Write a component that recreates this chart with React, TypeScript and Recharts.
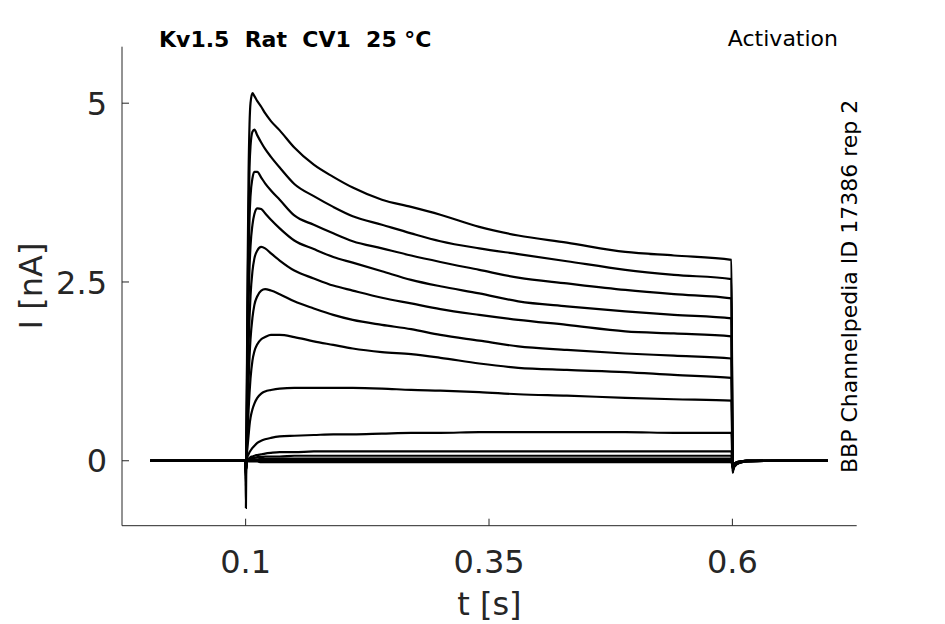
import { LineChart, Line, XAxis, YAxis } from 'recharts';

// time base (s) shared by all sweeps
const times = [0.002, 0.05, 0.0998, 0.1003, 0.101, 0.102, 0.103, 0.104, 0.105, 0.107, 0.109, 0.112, 0.116, 0.12, 0.126, 0.135, 0.15, 0.17, 0.19, 0.21, 0.24, 0.27, 0.3, 0.34, 0.38, 0.43, 0.49, 0.54, 0.599, 0.6003, 0.601, 0.603, 0.607, 0.615, 0.65, 0.698];

// current (nA) for each activation sweep, largest first
const sweep1 = [0, 0, 0, -0.66, 0.6, 2.6, 4.0, 4.7, 5.0, 5.14, 5.1, 5.03, 4.95, 4.86, 4.75, 4.62, 4.38, 4.14, 3.97, 3.82, 3.65, 3.55, 3.44, 3.27, 3.15, 3.05, 2.92, 2.87, 2.81, -0.17, -0.12, -0.07, -0.03, -0.01, 0, 0];
const sweep2 = [0, 0, 0, -0.35, 0.5, 2.2, 3.4, 4.1, 4.4, 4.6, 4.63, 4.55, 4.45, 4.36, 4.25, 4.1, 3.87, 3.7, 3.55, 3.42, 3.3, 3.18, 3.07, 2.97, 2.89, 2.79, 2.67, 2.6, 2.54, -0.16, -0.11, -0.06, -0.03, -0.01, 0, 0];
const sweep3 = [0, 0, 0, -0.25, 0.4, 1.8, 2.8, 3.4, 3.7, 3.95, 4.04, 4.04, 3.96, 3.88, 3.78, 3.65, 3.43, 3.3, 3.18, 3.07, 2.97, 2.87, 2.78, 2.67, 2.56, 2.48, 2.39, 2.33, 2.27, -0.15, -0.1, -0.06, -0.03, -0.01, 0, 0];
const sweep4 = [0, 0, 0, -0.22, 0.3, 1.4, 2.2, 2.7, 3.0, 3.3, 3.45, 3.53, 3.52, 3.46, 3.37, 3.25, 3.08, 2.96, 2.85, 2.77, 2.65, 2.53, 2.44, 2.34, 2.23, 2.16, 2.09, 2.04, 1.99, -0.15, -0.1, -0.05, -0.02, -0.01, 0, 0];
const sweep5 = [0, 0, 0, -0.2, 0.2, 1.0, 1.6, 2.0, 2.3, 2.65, 2.83, 2.94, 2.99, 2.97, 2.9, 2.8, 2.66, 2.55, 2.45, 2.38, 2.28, 2.2, 2.12, 2.04, 1.97, 1.9, 1.81, 1.78, 1.74, -0.14, -0.1, -0.05, -0.02, 0, 0, 0];
const sweep6 = [0, 0, 0, -0.18, 0.15, 0.7, 1.1, 1.45, 1.7, 2.0, 2.18, 2.3, 2.38, 2.4, 2.38, 2.33, 2.23, 2.13, 2.04, 1.97, 1.9, 1.84, 1.76, 1.68, 1.6, 1.55, 1.5, 1.47, 1.43, -0.14, -0.09, -0.05, -0.02, 0, 0, 0];
const sweep7 = [0, 0, 0, -0.16, 0.1, 0.4, 0.7, 0.95, 1.15, 1.4, 1.53, 1.63, 1.7, 1.73, 1.76, 1.76, 1.73, 1.67, 1.62, 1.57, 1.52, 1.49, 1.44, 1.36, 1.3, 1.27, 1.24, 1.2, 1.16, -0.13, -0.09, -0.05, -0.02, 0, 0, 0];
const sweep8 = [0, 0, 0, -0.15, 0.05, 0.2, 0.35, 0.5, 0.6, 0.72, 0.8, 0.88, 0.94, 0.97, 0.99, 1.01, 1.02, 1.02, 1.02, 1.02, 1.01, 0.99, 0.98, 0.96, 0.93, 0.91, 0.88, 0.86, 0.84, -0.12, -0.08, -0.04, -0.02, 0, 0, 0];
const sweep9 = [0, 0, 0, -0.14, 0.02, 0.06, 0.09, 0.12, 0.14, 0.18, 0.21, 0.25, 0.28, 0.3, 0.32, 0.34, 0.35, 0.36, 0.37, 0.37, 0.38, 0.39, 0.39, 0.4, 0.4, 0.4, 0.4, 0.39, 0.39, -0.12, -0.08, -0.04, -0.02, 0, 0, 0];
const sweep10 = [0, 0, 0, -0.13, 0.01, 0.02, 0.03, 0.04, 0.05, 0.06, 0.07, 0.08, 0.09, 0.1, 0.11, 0.12, 0.12, 0.13, 0.13, 0.13, 0.13, 0.13, 0.13, 0.13, 0.13, 0.13, 0.13, 0.13, 0.13, -0.11, -0.07, -0.04, -0.02, 0, 0, 0];
const sweep11 = [0, 0, 0, -0.12, 0, 0.01, 0.02, 0.02, 0.03, 0.04, 0.04, 0.05, 0.05, 0.06, 0.06, 0.06, 0.07, 0.07, 0.07, 0.07, 0.07, 0.07, 0.07, 0.07, 0.07, 0.07, 0.07, 0.07, 0.07, -0.1, -0.07, -0.04, -0.02, 0, 0, 0];
const sweep12 = [0, 0, 0, -0.11, 0, 0, 0.01, 0.01, 0.01, 0.02, 0.02, 0.02, 0.03, 0.03, 0.03, 0.03, 0.03, 0.03, 0.03, 0.03, 0.03, 0.03, 0.03, 0.03, 0.03, 0.03, 0.03, 0.03, 0.03, -0.09, -0.06, -0.03, -0.01, 0, 0, 0];
const sweep13 = [0, 0, 0, -0.1, 0, 0, 0, 0, 0, 0, 0, 0.01, 0.01, 0.01, 0.01, 0.01, 0.01, 0.01, 0.01, 0.01, 0.01, 0.01, 0.01, 0.01, 0.01, 0.01, 0.01, 0.01, 0.01, -0.08, -0.05, -0.03, -0.01, 0, 0, 0];
const sweep14 = [0, 0, 0, -0.1, 0, 0, -0.01, -0.01, -0.01, -0.01, -0.01, -0.01, -0.02, -0.02, -0.02, -0.02, -0.02, -0.02, -0.02, -0.02, -0.02, -0.02, -0.02, -0.02, -0.02, -0.02, -0.02, -0.02, -0.02, -0.08, -0.05, -0.03, -0.01, 0, 0, 0];

const sweeps = [sweep1, sweep2, sweep3, sweep4, sweep5, sweep6, sweep7, sweep8, sweep9, sweep10, sweep11, sweep12, sweep13, sweep14];

const xTicks = [0.1, 0.35, 0.6];
const yTicks = [0, 2.5, 5];

const FONT = '"DejaVu Sans", sans-serif';
const GREY = '#262626';

const chartData = times.map((t, i) => {
  const row: Record<string, number> = { t };
  sweeps.forEach((s, k) => {
    row[`s${k + 1}`] = s[i];
  });
  return row;
});

function XTick({ x, y, payload }: any) {
  return (
    <g>
      <line x1={x} x2={x} y1={y} y2={y - 7} stroke={GREY} strokeWidth={1} />
      <text x={x} y={y + 47} textAnchor="middle" fontSize={32} fontFamily={FONT} fill={GREY}>
        {String(payload.value)}
      </text>
    </g>
  );
}

function YTick({ x, y, payload }: any) {
  return (
    <g>
      <line x1={x} x2={x + 7} y1={y} y2={y} stroke={GREY} strokeWidth={1} />
      <text x={x - 15} y={y + 11.7} textAnchor="end" fontSize={32} fontFamily={FONT} fill={GREY}>
        {String(payload.value)}
      </text>
    </g>
  );
}

export default function App() {
  return (
    <div style={{ position: 'absolute', left: 0, top: 0, width: 945, height: 624, background: '#fff' }}>
      <LineChart
        width={945}
        height={624}
        data={chartData}
        margin={{ top: 46.7, right: 88.3, bottom: 97.3, left: 121 }}
      >
        <XAxis
          dataKey="t"
          type="number"
          domain={[-0.027, 0.7277]}
          ticks={xTicks}
          height={1}
          tickSize={0}
          tickMargin={0}
          tickLine={false}
          axisLine={{ stroke: GREY, strokeWidth: 1 }}
          tick={<XTick />}
        />
        <YAxis
          type="number"
          domain={[-0.908, 5.79]}
          ticks={yTicks}
          width={1}
          tickSize={0}
          tickMargin={0}
          tickLine={false}
          axisLine={{ stroke: GREY, strokeWidth: 1 }}
          tick={<YTick />}
        />
        {sweeps.map((_, k) => (
          <Line
            key={k}
            dataKey={`s${k + 1}`}
            type="monotone"
            stroke="#000"
            strokeWidth={2.2}
            dot={false}
            isAnimationActive={false}
          />
        ))}
      </LineChart>
      <svg
        width={945}
        height={624}
        style={{ position: 'absolute', left: 0, top: 0, pointerEvents: 'none' }}
      >
        <text x={159} y={46.7} fontSize={22} fontWeight="bold" fontFamily={FONT} fill="#000" style={{ whiteSpace: 'pre' }}>
          {'Kv1.5  Rat  CV1  25 °C'}
        </text>
        <text x={838} y={46} textAnchor="end" fontSize={22} fontFamily={FONT} fill="#000">
          Activation
        </text>
        <text x={857} y={473} fontSize={22} fontFamily={FONT} fill="#000" transform="rotate(-90 857 473)">
          BBP Channelpedia ID 17386 rep 2
        </text>
        <text x={489.4} y={615} textAnchor="middle" fontSize={32} fontFamily={FONT} fill={GREY}>
          t [s]
        </text>
        <text x={42} y={286} textAnchor="middle" fontSize={32} fontFamily={FONT} fill={GREY} transform="rotate(-90 42 286)">
          I [nA]
        </text>
      </svg>
    </div>
  );
}
